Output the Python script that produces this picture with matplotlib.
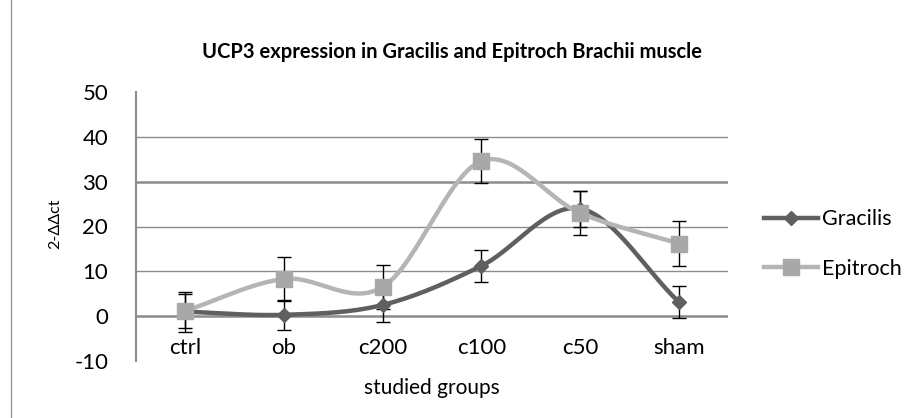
import numpy as np
import matplotlib
matplotlib.use("Agg")
import matplotlib.pyplot as plt
from matplotlib.lines import Line2D

categories = ["ctrl", "ob", "c200", "c100", "c50", "sham"]
gracilis = [1.0, 0.3, 2.5, 11.2, 24.0, 3.2]
gracilis_err = [4.5, 3.4, 3.7, 3.5, 4.0, 3.6]
epitroch = [1.2, 8.3, 6.5, 34.6, 23.0, 16.2]
epitroch_err = [3.8, 4.9, 5.0, 5.0, 5.0, 5.0]
yticks = [-10, 0, 10, 20, 30, 40, 50]

FONT = ["Lato", "DejaVu Sans"]
plt.rcParams['font.family'] = FONT

def smooth(x, y, n=30):
    x = np.asarray(x, float); y = np.asarray(y, float)
    px = np.concatenate([[2*x[0]-x[1]], x, [2*x[-1]-x[-2]]])
    py = np.concatenate([[2*y[0]-y[1]], y, [2*y[-1]-y[-2]]])
    xs, ys = [], []
    for i in range(1, len(px)-2):
        t = np.linspace(0, 1, n, endpoint=False)
        for p, out in ((px, xs), (py, ys)):
            p0, p1, p2, p3 = p[i-1], p[i], p[i+1], p[i+2]
            out.extend(0.5*((2*p1) + (-p0+p2)*t + (2*p0-5*p1+4*p2-p3)*t**2 + (-p0+3*p1-3*p2+p3)*t**3))
    xs.append(x[-1]); ys.append(y[-1])
    return np.array(xs), np.array(ys)

fig = plt.figure(figsize=(9.21, 4.18), dpi=100)
ax = fig.add_axes([136/921, 1-361/418, (728-136)/921, (361-92)/418])
x = np.arange(len(categories))
ax.set_xlim(-0.5, len(categories)-0.5)
ax.set_ylim(-10, 50)

for v in [10, 20, 40]:
    ax.axhline(v, color="#8c8c8c", lw=1.0, zorder=1)
for v in [0, 30]:
    ax.axhline(v, color="#8c8c8c", lw=1.8, zorder=1)

cg = "#5f5f5f"
ce = "#b5b5b5"
sx, sy = smooth(x, gracilis)
ax.plot(sx, sy, color=cg, lw=3.2, zorder=3, solid_capstyle="round")
ax.errorbar(x, gracilis, yerr=gracilis_err, fmt="none", ecolor="black", elinewidth=1.0, capsize=5, capthick=1.0, zorder=4)
ax.plot(x, gracilis, "D", color=cg, ms=7, zorder=5)

sx, sy = smooth(x, epitroch)
ax.plot(sx, sy, color=ce, lw=3.2, zorder=3, solid_capstyle="round")
ax.errorbar(x, epitroch, yerr=epitroch_err, fmt="none", ecolor="black", elinewidth=1.0, capsize=5, capthick=1.0, zorder=4)
ax.plot(x, epitroch, "s", color="#a8a8a8", ms=12, zorder=5)

for s in ["top", "right", "bottom"]:
    ax.spines[s].set_visible(False)
ax.spines["left"].set_color("#8c8c8c")
ax.spines["left"].set_linewidth(1.5)
ax.set_yticks(yticks)
ax.set_yticklabels([str(v) for v in yticks], fontsize=16)
ax.tick_params(axis="y", length=0, pad=20)
ax.set_xticks(x)
ax.set_xticklabels([])
ax.tick_params(axis="x", length=0)
for xi, c in zip(x, categories):
    ax.text(xi, -7.0, c, ha="center", va="center", fontsize=16)

ax.text(0.5, -0.065, "studied groups", transform=ax.transAxes, ha="center", va="top", fontsize=15)
fig.text(55/921, 1-224/418, "2-ΔΔct", rotation=90, ha="center", va="center", fontsize=11.5)
fig.text(452/921, 1-52/418, "UCP3 expression in Gracilis and Epitroch Brachii muscle",
         ha="center", va="center", fontsize=14.5, fontweight="bold")

fig.add_artist(Line2D([11/921, 11/921], [0, 1], transform=fig.transFigure, color="#999999", lw=1.0))

handles = [Line2D([], [], color=cg, lw=3.2, marker="D", ms=7),
           Line2D([], [], color=ce, lw=3.2, marker="s", ms=12, markerfacecolor="#a8a8a8", markeredgecolor="#a8a8a8")]
fig.legend(handles, ["Gracilis", "Epitroch"], loc="center left", bbox_to_anchor=(764/921, 1-244/418),
           frameon=False, fontsize=15.5, handlelength=2.5, labelspacing=1.35, handletextpad=0.2,
           borderaxespad=0, borderpad=0)

fig.savefig("out.png", dpi=100)
